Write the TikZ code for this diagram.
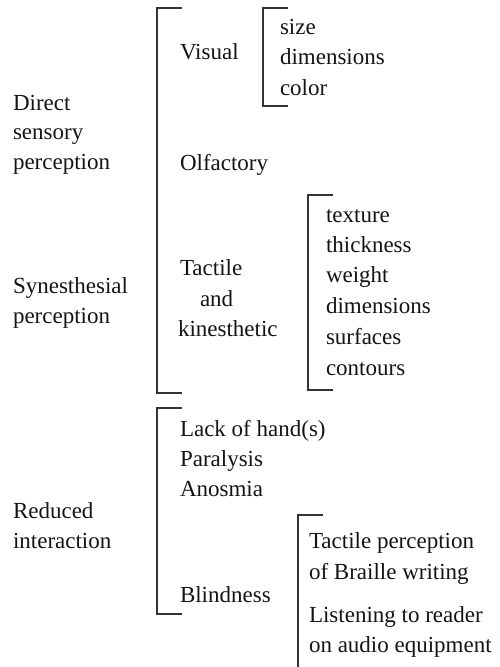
\documentclass[tikz,border=0pt]{standalone}
\usepackage{fontspec}
\setmainfont{Liberation Serif}
\begin{document}
\begin{tikzpicture}[x=1pt,y=-1pt,
  lbl/.style={anchor=base west,inner sep=0pt,outer sep=0pt,text=black!92,
    font=\fontsize{23}{30}\selectfont},
  brk/.style={draw=black!80,line width=1.1pt}]
\useasboundingbox (0,0) rectangle (499,667);

% brackets
\draw[brk] (182,8) -- (157,8) -- (157,393) -- (182,393);
\draw[brk] (182,408) -- (157,408) -- (157,614) -- (182,614);
\draw[brk] (288,8) -- (263,8) -- (263,106) -- (288,106);
\draw[brk] (333,195) -- (308,195) -- (308,390) -- (333,390);
\draw[brk] (323,515) -- (298,515) -- (298,667);

% left column
\node[lbl] (d1) at (13,110) {Direct};
\node[lbl] (d2) at (13,139) {sensory};
\node[lbl] (d3) at (13,169) {perception};
\node[lbl] (s1) at (13,293) {Synesthesial};
\node[lbl] (s2) at (13,323) {perception};
\node[lbl] (r1) at (13,518) {Reduced};
\node[lbl] (r2) at (13,548) {interaction};

% middle column
\node[lbl] (vis) at (180,59) {Visual};
\node[lbl] (olf) at (180,170) {Olfactory};
\node[lbl] (t1) at (180,275) {Tactile};
\node[lbl] (t2) at (200,306) {and};
\node[lbl] (t3) at (178,336) {kinesthetic};
\node[lbl] (lh) at (180,436) {Lack of hand(s)};
\node[lbl] (par) at (180,466) {Paralysis};
\node[lbl] (ano) at (180,496) {Anosmia};
\node[lbl] (bli) at (180,602) {Blindness};

% visual qualities
\node[lbl] (v1) at (280,34) {size};
\node[lbl] (v2) at (280,64.5) {dimensions};
\node[lbl] (v3) at (280,95) {color};

% tactile qualities
\node[lbl] (k1) at (326,222) {texture};
\node[lbl] (k2) at (326,252) {thickness};
\node[lbl] (k3) at (326,282) {weight};
\node[lbl] (k4) at (326,313) {dimensions};
\node[lbl] (k5) at (326,344) {surfaces};
\node[lbl] (k6) at (326,375) {contours};

% blindness aids
\node[lbl] (b1) at (309,548) {Tactile perception};
\node[lbl] (b2) at (309,579) {of Braille writing};
\node[lbl] (b3) at (309,622) {Listening to reader};
\node[lbl] (b4) at (309,652) {on audio equipment};
\end{tikzpicture}
\end{document}
